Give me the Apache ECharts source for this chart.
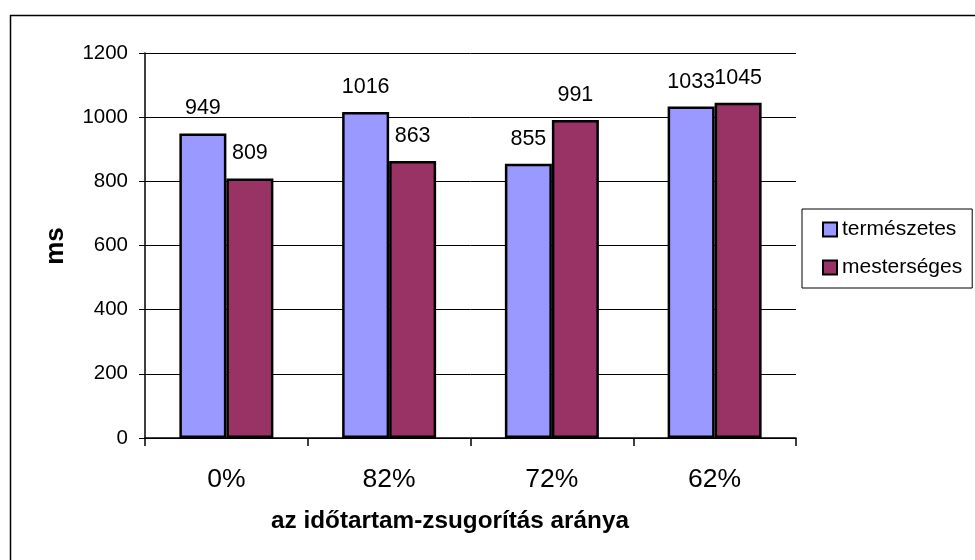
<!DOCTYPE html>
<html>
<head>
<meta charset="utf-8">
<script src="https://cdn.jsdelivr.net/npm/echarts@6/dist/echarts.min.js"></script>
<style>
  html, body { margin: 0; padding: 0; background: #ffffff; }
  #chart { width: 975px; height: 560px; }
</style>
</head>
<body>
<div id="chart"></div>
<script>
// Compression ratios and measured durations (ms)
const categories = ['0%', '82%', '72%', '62%'];
const naturalValues = [949, 1016, 855, 1033];
const artificialValues = [809, 863, 991, 1045];
const seriesNames = ['természetes', 'mesterséges'];
const yTicks = { min: 0, max: 1200, interval: 200 };
const yAxisTitle = 'ms';
const xAxisTitle = 'az időtartam-zsugorítás aránya';

const FONT = '"Liberation Sans", Arial, sans-serif';
const chart = echarts.init(document.getElementById('chart'), null, { renderer: 'canvas' });

const barStyle = (color) => ({
  color: color,
  borderColor: '#000000',
  borderWidth: 2.5
});

const labelStyle = {
  show: true,
  position: 'top',
  distance: 14,
  color: '#000000',
  fontFamily: FONT,
  fontSize: 21.5
};

chart.setOption({
  backgroundColor: '#ffffff',
  animation: false,
  graphic: [
    {
      type: 'rect',
      shape: { x: 10.5, y: 15.5, width: 1200, height: 1200 },
      style: { fill: 'none', stroke: '#000000', lineWidth: 1.5 },
      silent: true,
      z: -1
    },
    {
      type: 'text',
      x: 56,
      y: 246,
      rotation: Math.PI / 2,
      style: {
        text: yAxisTitle,
        fontFamily: FONT,
        fontSize: 26,
        fontWeight: 'bold',
        fill: '#000000',
        align: 'center',
        verticalAlign: 'middle'
      }
    },
    {
      type: 'text',
      x: 450,
      y: 521,
      style: {
        text: xAxisTitle,
        fontFamily: FONT,
        fontSize: 24.3,
        fontWeight: 'bold',
        fill: '#000000',
        align: 'center',
        verticalAlign: 'middle'
      }
    }
  ],
  grid: { left: 145, right: 179, top: 53, bottom: 122, containLabel: false },
  legend: {
    orient: 'vertical',
    left: 802,
    top: 209,
    padding: [10, 10, 10, 20],
    itemGap: 17,
    itemWidth: 14,
    itemHeight: 14,
    icon: 'rect',
    borderColor: '#000000',
    borderWidth: 1,
    backgroundColor: '#ffffff',
    textStyle: { fontFamily: FONT, fontSize: 21, color: '#000000' },
    itemStyle: { borderColor: '#000000', borderWidth: 2 },
    data: seriesNames
  },
  xAxis: {
    type: 'category',
    data: categories,
    axisLine: { show: true, lineStyle: { color: '#000000', width: 1.5 } },
    axisTick: { show: true, alignWithLabel: false, length: 8, lineStyle: { color: '#000000', width: 1.5 } },
    axisLabel: { fontFamily: FONT, fontSize: 26.5, color: '#000000', margin: 28 },
    splitLine: { show: false }
  },
  yAxis: {
    type: 'value',
    min: yTicks.min,
    max: yTicks.max,
    interval: yTicks.interval,
    axisLine: { show: true, lineStyle: { color: '#000000', width: 1.5 } },
    axisTick: { show: true, length: 6, lineStyle: { color: '#000000', width: 1 } },
    axisLabel: {
      fontFamily: FONT,
      fontSize: 20.5,
      color: '#000000',
      margin: 17,
      formatter: (v) => String(v)
    },
    splitLine: { show: true, lineStyle: { color: '#000000', width: 1 } }
  },
  series: [
    {
      name: seriesNames[0],
      type: 'bar',
      data: naturalValues,
      barWidth: 47,
      barGap: '0%',
      itemStyle: barStyle('#9999FF'),
      label: labelStyle
    },
    {
      name: seriesNames[1],
      type: 'bar',
      data: artificialValues,
      barWidth: 47,
      barGap: '0%',
      itemStyle: barStyle('#993366'),
      label: labelStyle
    }
  ]
});
</script>
</body>
</html>
